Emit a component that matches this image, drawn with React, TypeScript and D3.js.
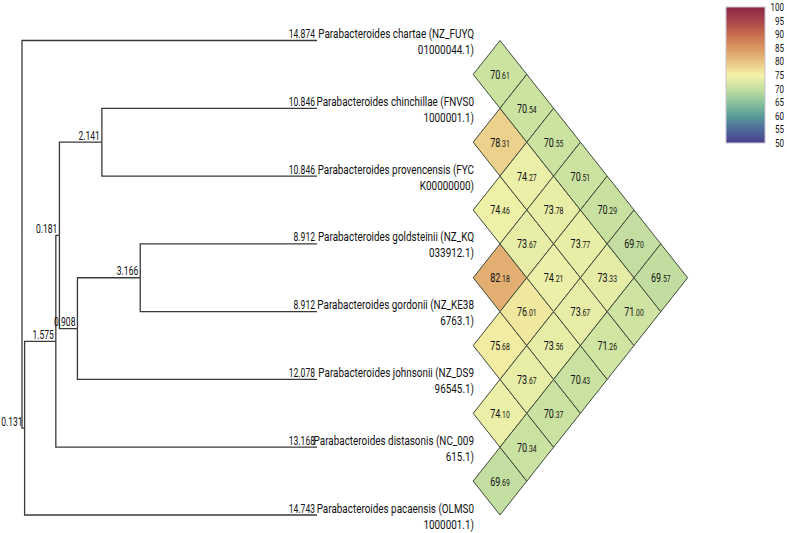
import React, { useEffect, useRef } from "react";
import * as d3 from "d3";

const treeIds = ["root", "chartae", "n1", "n2", "pacaensis", "n3", "distasonis", "n4", "n5", "chinchillae", "provencensis", "n6", "johnsonii", "goldsteinii", "gordonii"];
const treeParents = ["", "root", "root", "n1", "n1", "n2", "n2", "n3", "n3", "n4", "n4", "n5", "n5", "n6", "n6"];
const branchLengths = [0, 14.874, 0.131, 1.575, 14.743, 0.181, 13.168, 2.141, 0.908, 10.846, 10.846, 3.166, 12.078, 8.912, 8.912];

const leafLine1: Record<string, string> = {
  chartae: "Parabacteroides chartae (NZ_FUYQ",
  chinchillae: "Parabacteroides chinchillae (FNVS0",
  provencensis: "Parabacteroides provencensis (FYC",
  goldsteinii: "Parabacteroides goldsteinii (NZ_KQ",
  gordonii: "Parabacteroides gordonii (NZ_KE38",
  johnsonii: "Parabacteroides johnsonii (NZ_DS9",
  distasonis: "Parabacteroides distasonis (NC_009",
  pacaensis: "Parabacteroides pacaensis (OLMS0",
};
const leafLine2: Record<string, string> = {
  chartae: "01000044.1)",
  chinchillae: "1000001.1)",
  provencensis: "K00000000)",
  goldsteinii: "033912.1)",
  gordonii: "6763.1)",
  johnsonii: "96545.1)",
  distasonis: "615.1)",
  pacaensis: "1000001.1)",
};

// pairwise identity cells: [row i, row j, value] (leaf indices in tree order)
const cellI = [0, 1, 2, 3, 4, 5, 6, 0, 1, 2, 3, 4, 5, 0, 1, 2, 3, 4, 0, 1, 2, 3, 0, 1, 2, 0, 1, 0];
const cellJ = [1, 2, 3, 4, 5, 6, 7, 2, 3, 4, 5, 6, 7, 3, 4, 5, 6, 7, 4, 5, 6, 7, 5, 6, 7, 6, 7, 7];
const cellValues = [70.61, 78.31, 74.46, 82.18, 75.68, 74.10, 69.69, 70.54, 74.27, 73.67, 76.01, 73.67, 70.34, 70.55, 73.78, 74.21, 73.56, 70.37, 70.51, 73.77, 73.67, 70.43, 70.29, 73.33, 71.26, 69.70, 71.00, 69.57];

const legendTicks = [100, 95, 90, 85, 80, 75, 70, 65, 60, 55, 50];
const paletteStops = [50, 55, 60, 65, 70, 75, 80, 85, 90, 95, 100];
const paletteColors = ["#4b3f8e", "#4d6a98", "#5a9c98", "#8cc49c", "#c6e0a0", "#f3f2a8", "#e8c07f", "#da965e", "#c66d4e", "#a8434a", "#8b2742"];

const FONT = "Roboto, 'Noto Sans', sans-serif";

export default function App() {
  const line1Ref = useRef<SVGGElement>(null);

  const color = d3.scaleLinear<string>().domain(paletteStops).range(paletteColors).interpolate(d3.interpolateRgb);

  const rows = treeIds.map((id, k) => ({ id, parent: treeParents[k], length: branchLengths[k] }));
  const root = d3.stratify<any>().id((d) => d.id).parentId((d) => d.parent || null)(rows);
  const dist = new Map<string, number>();
  root.each((n: any) => {
    dist.set(n.id, (n.parent ? dist.get(n.parent.id)! : 0) + n.data.length);
  });
  const leaves = root.leaves();
  const maxDist = d3.max(leaves, (l: any) => dist.get(l.id)!)!;
  const x = d3.scaleLinear().domain([0, maxDist]).range([22, 317]);
  const yLeaf = d3.scaleLinear().domain([0, leaves.length - 1]).range([40.5, 515]);
  const pos = new Map<string, { x: number; y: number }>();
  leaves.forEach((l: any, i) => pos.set(l.id, { x: x(dist.get(l.id)!), y: yLeaf(i) }));
  root.eachAfter((n: any) => {
    if (n.children) {
      const ys = n.children.map((c: any) => pos.get(c.id)!.y);
      pos.set(n.id, { x: x(dist.get(n.id)!), y: (ys[0] + ys[ys.length - 1]) / 2 });
    }
  });
  const nodes = root.descendants();
  const links = nodes.filter((n: any) => n.parent);

  const colX = d3.scaleLinear().domain([1, 7]).range([500, 660.8]);
  const hw = colX(2) - colX(1);
  const hh = yLeaf(1) - yLeaf(0);

  const cb = { x: 726, y: 7, w: 39, h: 136 };
  const cbY = d3.scaleLinear().domain([50, 100]).range([cb.y + cb.h, cb.y]);

  const LABEL_W = 153;
  const SX = 0.74;

  useEffect(() => {
    if (!line1Ref.current) return;
    d3.select(line1Ref.current)
      .selectAll<SVGTextElement, unknown>("text.l1")
      .each(function () {
        const natural = this.getComputedTextLength();
        const target = LABEL_W / SX;
        if (natural < target) {
          this.setAttribute("textLength", String(target));
          this.setAttribute("lengthAdjust", "spacing");
        }
      });
  }, []);

  return (
    <div style={{ position: "absolute", left: 0, top: 0 }}>
      <svg width={787} height={533} style={{ display: "block", background: "#fff" }} fontFamily={FONT}>
        <defs>
          <linearGradient id="cbgrad" x1="0" y1="1" x2="0" y2="0">
            {paletteStops.map((s, k) => (
              <stop key={k} offset={(s - 50) / 50} stopColor={paletteColors[k]} />
            ))}
          </linearGradient>
        </defs>

        {/* tree */}
        <g fill="none" stroke="#3a3a3a" strokeWidth={1.3}>
          {links.map((n: any) => {
            const p = pos.get(n.parent.id)!;
            const c = pos.get(n.id)!;
            return <path key={n.id} d={`M${p.x},${p.y}V${c.y}H${c.x}`} />;
          })}
        </g>
        <g fontSize={12.2} fill="#111">
          {links.map((n: any) => {
            const c = pos.get(n.id)!;
            return (
              <text key={n.id} transform={`translate(${c.x - 2},${c.y - 2.5}) scale(0.7,1)`} textAnchor="end">
                {n.data.length.toFixed(3)}
              </text>
            );
          })}
        </g>

        {/* leaf labels */}
        <g ref={line1Ref} fontSize={13.4} fill="#111">
          {leaves.map((l: any) => {
            const c = pos.get(l.id)!;
            return (
              <g key={l.id}>
                <text className="l1" transform={`translate(474,${c.y - 2.5}) scale(${SX},1)`} textAnchor="end">
                  {leafLine1[l.id]}
                </text>
                <text transform={`translate(474,${c.y + 13.5}) scale(${SX},1)`} textAnchor="end">
                  {leafLine2[l.id]}
                </text>
              </g>
            );
          })}
        </g>

        {/* heatmap */}
        <g>
          {cellValues.map((v, k) => {
            const i = cellI[k];
            const j = cellJ[k];
            const cx = colX(j - i);
            const cy = (yLeaf(i) + yLeaf(j)) / 2;
            const intPart = Math.floor(v);
            const dec = v.toFixed(2).split(".")[1];
            return (
              <g key={k}>
                <path
                  d={`M${cx},${cy - hh / 2}L${cx + hw},${cy}L${cx},${cy + hh / 2}L${cx - hw},${cy}Z`}
                  fill={color(v)}
                  stroke="#3f4a3a"
                  strokeWidth={1}
                />
                <text transform={`translate(${cx},${cy + 4.5}) scale(0.72,1)`} textAnchor="middle" fill="#111">
                  <tspan fontSize={12.5}>{intPart}</tspan>
                  <tspan fontSize={9.5}>.{dec}</tspan>
                </text>
              </g>
            );
          })}
        </g>

        {/* colour bar */}
        <rect x={cb.x} y={cb.y} width={cb.w} height={cb.h} fill="url(#cbgrad)" stroke="#c9c3d6" strokeWidth={1} />
        <g fontSize={11.5} fill="#111">
          {legendTicks.map((t) => (
            <text key={t} transform={`translate(784,${cbY(t) + 4}) scale(0.7,1)`} textAnchor="end">
              {t}
            </text>
          ))}
        </g>
      </svg>
    </div>
  );
}
